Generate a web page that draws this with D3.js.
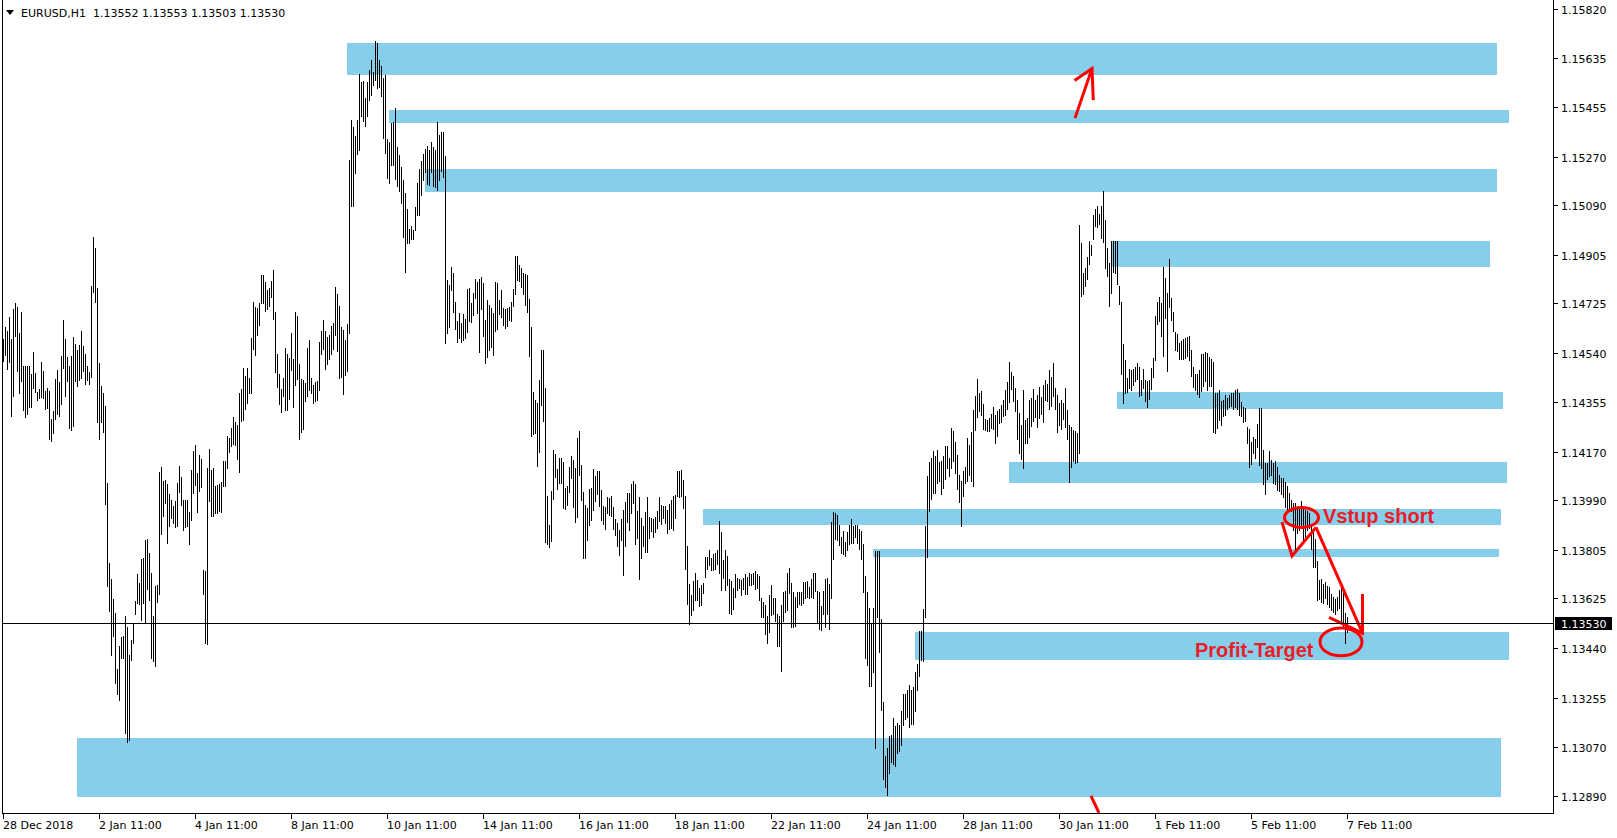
<!DOCTYPE html>
<html><head><meta charset="utf-8">
<script src="https://cdn.jsdelivr.net/npm/d3@7"></script>
<style>html,body{margin:0;padding:0;background:#fff;overflow:hidden}</style>
</head><body>
<svg id="c" width="1617" height="838"></svg>
<script>
// ---------------- DATA ----------------
const symbol = "EURUSD,H1";
const lastOHLC = ["1.13552", "1.13553", "1.13503", "1.13530"];
const currentPrice = 1.13530;

// hourly bars (28 Dec 2018 00:00 ... 7 Feb 2019 11:00)
const highs = [
1.14589,1.14635,1.14620,1.14672,1.14587,1.14700,1.14724,1.14709,1.14611,1.14691,
1.14487,1.14487,1.14487,1.14487,1.14458,1.14539,1.14461,1.14393,1.14404,1.14502,
1.14469,1.14395,1.14408,1.14396,1.14291,1.14319,1.14441,1.14472,1.14428,1.14524,
1.14658,1.14587,1.14522,1.14487,1.14524,1.14598,1.14571,1.14546,1.14565,1.14617,
1.14563,1.14532,1.14487,1.14467,1.14787,1.14967,1.14926,1.14780,1.14498,1.14415,
1.14389,1.14341,1.14054,1.13754,1.13695,1.13621,1.13570,1.13361,1.13444,1.13478,
1.13482,1.13559,1.13515,1.13413,1.13470,1.13526,1.13615,1.13715,1.13682,1.13769,
1.13774,1.13839,1.13843,1.13793,1.13719,1.13556,1.13671,1.13672,1.14093,1.14111,
1.14059,1.14065,1.14050,1.14013,1.13991,1.13967,1.13985,1.14054,1.14117,1.14076,
1.13989,1.13989,1.13991,1.13945,1.14100,1.14171,1.14195,1.14091,1.14156,1.14141,
1.13728,1.13726,1.14108,1.14178,1.14102,1.14108,1.14043,1.14046,1.14048,1.14058,
1.14133,1.14135,1.14228,1.14222,1.14259,1.14298,1.14280,1.14269,1.14389,1.14404,
1.14480,1.14452,1.14480,1.14443,1.14591,1.14726,1.14708,1.14704,1.14721,1.14826,
1.14826,1.14802,1.14771,1.14778,1.14806,1.14845,1.14691,1.14533,1.14459,1.14402,
1.14445,1.14554,1.14532,1.14519,1.14613,1.14515,1.14691,1.14676,1.14496,1.14439,
1.14437,1.14426,1.14554,1.14585,1.14445,1.14419,1.14428,1.14434,1.14578,1.14620,
1.14658,1.14617,1.14596,1.14602,1.14637,1.14650,1.14784,1.14758,1.14713,1.14635,
1.14622,1.14584,1.14643,1.15254,1.15404,1.15378,1.15343,1.15406,1.15574,1.15545,
1.15548,1.15487,1.15545,1.15589,1.15626,1.15584,1.15697,1.15689,1.15626,1.15606,
1.15561,1.15572,1.15332,1.15322,1.15393,1.15395,1.15450,1.15304,1.15272,1.15230,
1.15182,1.15134,1.15074,1.15000,1.15011,1.14996,1.15082,1.15169,1.15222,
1.15250,1.15276,1.15298,1.15309,1.15291,1.15321,1.15302,1.15293,1.15398,1.15347,
1.15361,1.15358,1.15269,1.14809,1.14791,1.14858,1.14835,1.14728,1.14654,1.14685,
1.14648,1.14682,1.14663,1.14774,1.14778,1.14721,1.14761,1.14813,1.14802,1.14811,
1.14821,1.14798,1.14658,1.14735,1.14715,1.14704,1.14684,1.14802,1.14796,1.14735,
1.14772,1.14706,1.14702,1.14706,1.14709,1.14728,1.14776,1.14896,1.14896,1.14865,
1.14852,1.14834,1.14830,1.14828,1.14739,1.14632,1.14393,1.14361,1.14350,1.14437,
1.14546,1.14546,1.14406,1.14006,1.13898,1.14022,1.14174,1.14161,1.14106,1.14145,
1.14145,1.14130,1.14033,1.14043,1.14111,1.14152,1.14137,1.14109,1.14220,1.14248,
1.14119,1.14020,1.13970,1.13961,1.14032,1.14035,1.14106,1.14080,1.14098,1.14096,
1.14026,1.13967,1.13965,1.14002,1.13995,1.14004,1.13965,1.13917,1.13902,1.13876,
1.13917,1.13954,1.13983,1.14015,1.14015,1.14050,1.14061,1.14048,1.13948,1.14002,
1.13924,1.13893,1.13943,1.14000,1.13926,1.13922,1.13917,1.13926,1.13950,1.14000,
1.13969,1.13967,1.13967,1.13954,1.13974,1.13991,1.14004,1.14007,1.14098,1.14098,
1.14102,1.14065,1.14006,1.13820,1.13678,1.13637,1.13687,1.13719,1.13693,1.13661,
1.13672,1.13682,1.13776,1.13776,1.13804,1.13774,1.13789,1.13791,1.13804,1.13911,
1.13869,1.13767,1.13802,1.13782,1.13696,1.13689,1.13663,1.13715,1.13700,1.13696,
1.13691,1.13698,1.13715,1.13704,1.13717,1.13713,1.13719,1.13726,1.13713,1.13707,
1.13624,1.13611,1.13600,1.13559,1.13635,1.13672,1.13626,1.13626,1.13565,1.13556,
1.13598,1.13648,1.13650,1.13717,1.13737,1.13682,1.13646,1.13630,1.13646,1.13648,
1.13648,1.13685,1.13685,1.13689,1.13667,1.13694,1.13719,1.13719,1.13652,1.13648,
1.13596,1.13652,1.13696,1.13700,1.13676,1.13907,1.13945,1.13941,1.13935,1.13898,
1.13850,1.13874,1.13833,1.13870,1.13895,1.13917,1.13893,1.13898,1.13898,1.13883,
1.13874,1.13824,1.13708,1.13648,1.13587,1.13528,1.13589,1.13800,1.13800,1.13800,
1.13546,1.13237,1.13037,1.13065,1.13111,1.13115,1.13176,1.13148,1.13158,1.13152,
1.13204,1.13269,1.13269,1.13282,1.13300,1.13282,1.13293,1.13348,1.13380,1.13500,
1.13500,1.13583,1.13893,1.14080,1.14130,1.14145,1.14172,1.14152,1.14176,1.14130,
1.14133,1.14154,1.14189,1.14189,1.14145,1.14259,1.14246,1.14204,1.14157,1.14083,
1.14059,1.14098,1.14111,1.14222,1.14195,1.14241,1.14324,1.14376,1.14439,1.14389,
1.14395,1.14346,1.14291,1.14287,1.14293,1.14311,1.14337,1.14306,1.14319,1.14330,
1.14343,1.14361,1.14398,1.14430,1.14504,1.14467,1.14450,1.14408,1.14361,1.14315,
1.14269,1.14398,1.14287,1.14296,1.14361,1.14370,1.14404,1.14361,1.14380,1.14411,
1.14374,1.14417,1.14435,1.14422,1.14472,1.14448,1.14500,1.14408,1.14380,1.14352,
1.14361,1.14352,1.14408,1.14324,1.14267,1.14263,1.14250,1.14245,1.14237,1.15015,
1.14945,1.14834,1.14854,1.14895,1.14954,1.14939,1.15050,1.15074,1.15084,1.15056,
1.15084,1.15141,1.15032,1.14926,1.14871,1.14954,1.14954,1.14954,1.14954,1.14787,
1.14726,1.14571,1.14509,1.14445,1.14476,1.14472,1.14476,1.14485,1.14500,1.14485,
1.14435,1.14476,1.14435,1.14432,1.14435,1.14482,1.14519,1.14676,1.14726,1.14745,
1.14722,1.14856,1.14815,1.14759,1.14885,1.14741,1.14689,1.14615,1.14608,1.14574,
1.14580,1.14590,1.14594,1.14598,1.14600,1.14548,1.14484,1.14459,1.14459,1.14475,
1.14532,1.14532,1.14542,1.14538,1.14523,1.14513,1.14504,1.14388,1.14388,1.14398,
1.14359,1.14363,1.14379,1.14369,1.14379,1.14388,1.14388,1.14398,1.14402,1.14388,
1.14355,1.14336,1.14331,1.14260,1.14254,1.14206,1.14225,1.14215,1.14273,1.14331,
1.14331,1.14177,1.14129,1.14129,1.14171,1.14139,1.14129,1.14133,1.14114,1.14081,
1.14071,1.14071,1.14056,1.14043,1.14014,1.13991,1.13979,1.13979,1.13960,1.13960,
1.13985,1.13956,1.13952,1.13947,1.13941,1.13899,1.13883,1.13845,1.13764,1.13692,
1.13697,1.13678,1.13684,1.13668,1.13665,1.13640,1.13630,1.13620,1.13630,1.13653,
1.13665,1.13659,1.13567,1.13553
];
const lows = [
1.14511,1.14533,1.14482,1.14506,1.14306,1.14380,1.14602,1.14472,1.14391,1.14435,
1.14328,1.14302,1.14315,1.14339,1.14339,1.14411,1.14396,1.14365,1.14374,1.14376,
1.14372,1.14332,1.14337,1.14219,1.14211,1.14241,1.14295,1.14315,1.14304,1.14352,
1.14485,1.14380,1.14435,1.14263,1.14254,1.14269,1.14435,1.14419,1.14439,1.14446,
1.14474,1.14424,1.14439,1.14424,1.14450,1.14767,1.14732,1.14283,1.14219,1.14285,
1.14246,1.13978,1.13672,1.13580,1.13417,1.13487,1.13311,1.13272,1.13248,1.13404,
1.13404,1.13124,1.13093,1.13098,1.13398,1.13461,1.13567,1.13611,1.13606,1.13546,
1.13608,1.13537,1.13663,1.13621,1.13404,1.13395,1.13374,1.13615,1.13643,1.13867,
1.13932,1.13982,1.13833,1.13895,1.13926,1.13908,1.13893,1.13895,1.14024,1.13976,
1.13882,1.13891,1.13896,1.13830,1.13917,1.14021,1.14050,1.13948,1.14028,1.14043,
1.13643,1.13459,1.13457,1.13991,1.13932,1.13935,1.13946,1.13945,1.13952,1.13948,
1.14046,1.14046,1.14111,1.14171,1.14195,1.14200,1.14198,1.14145,1.14096,1.14287,
1.14291,1.14333,1.14356,1.14391,1.14391,1.14556,1.14533,1.14609,1.14643,1.14726,
1.14726,1.14695,1.14704,1.14717,1.14750,1.14667,1.14469,1.14413,1.14350,1.14321,
1.14382,1.14330,1.14330,1.14371,1.14476,1.14339,1.14422,1.14443,1.14219,1.14245,
1.14257,1.14361,1.14380,1.14402,1.14391,1.14356,1.14361,1.14367,1.14402,1.14537,
1.14556,1.14480,1.14500,1.14517,1.14537,1.14556,1.14608,1.14546,1.14448,1.14450,
1.14387,1.14458,1.14472,1.14615,1.15087,1.15089,1.15211,1.15282,1.15295,1.15421,
1.15404,1.15385,1.15422,1.15482,1.15500,1.15537,1.15556,1.15528,1.15530,1.15497,
1.15341,1.15285,1.15191,1.15174,1.15241,1.15239,1.15187,1.15161,1.15143,1.15098,
1.14971,1.14843,1.14950,1.14950,1.14965,1.14963,1.15000,1.15056,1.15056,
1.15129,1.15185,1.15216,1.15170,1.15167,1.15213,1.15163,1.15157,1.15148,1.15185,
1.15217,1.15195,1.14578,1.14615,1.14639,1.14776,1.14693,1.14628,1.14580,1.14598,
1.14583,1.14589,1.14596,1.14620,1.14658,1.14656,1.14682,1.14745,1.14689,1.14543,
1.14704,1.14602,1.14502,1.14524,1.14550,1.14561,1.14532,1.14622,1.14628,1.14684,
1.14674,1.14646,1.14634,1.14641,1.14665,1.14661,1.14715,1.14759,1.14811,1.14809,
1.14785,1.14759,1.14719,1.14693,1.14528,1.14232,1.14237,1.14243,1.14120,1.14171,
1.14348,1.14287,1.13837,1.13830,1.13819,1.13841,1.13998,1.14080,1.14035,1.14056,
1.14056,1.13963,1.13959,1.13976,1.14022,1.14074,1.13967,1.13913,1.13930,1.14085,
1.13993,1.13778,1.13778,1.13843,1.13900,1.13919,1.13957,1.13991,1.14015,1.13969,
1.13917,1.13902,1.13885,1.13945,1.13937,1.13935,1.13887,1.13861,1.13822,1.13787,
1.13846,1.13713,1.13822,1.13911,1.13883,1.13946,1.13982,1.13828,1.13852,1.13698,
1.13776,1.13822,1.13800,1.13800,1.13852,1.13876,1.13856,1.13874,1.13889,1.13915,
1.13902,1.13926,1.13908,1.13870,1.13885,1.13889,1.13883,1.13926,1.14009,1.14006,
1.14009,1.13963,1.13735,1.13606,1.13533,1.13565,1.13583,1.13620,1.13620,1.13598,
1.13604,1.13648,1.13708,1.13737,1.13750,1.13732,1.13732,1.13737,1.13756,1.13720,
1.13657,1.13704,1.13657,1.13678,1.13574,1.13568,1.13587,1.13633,1.13657,1.13667,
1.13639,1.13663,1.13643,1.13643,1.13676,1.13676,1.13680,1.13663,1.13667,1.13620,
1.13556,1.13556,1.13496,1.13459,1.13500,1.13565,1.13568,1.13541,1.13448,1.13450,
1.13357,1.13543,1.13578,1.13583,1.13648,1.13522,1.13519,1.13524,1.13593,1.13606,
1.13602,1.13611,1.13630,1.13633,1.13630,1.13633,1.13630,1.13654,1.13537,1.13513,
1.13509,1.13570,1.13519,1.13570,1.13513,1.13630,1.13774,1.13848,1.13843,1.13824,
1.13796,1.13791,1.13783,1.13806,1.13828,1.13833,1.13833,1.13856,1.13833,1.13809,
1.13774,1.13652,1.13404,1.13380,1.13300,1.13300,1.13352,1.13069,1.13556,1.13426,
1.13213,1.12954,1.12926,1.12895,1.12978,1.13019,1.13009,1.13004,1.13052,1.13059,
1.13080,1.13154,1.13176,1.13185,1.13148,1.13161,1.13158,1.13207,1.13287,1.13337,
1.13398,1.13393,1.13556,1.13782,1.13954,1.13996,1.14019,1.14019,1.14056,1.14065,
1.14015,1.14037,1.14070,1.14111,1.14083,1.14111,1.14139,1.14093,1.14033,1.13985,
1.13898,1.14009,1.14056,1.14065,1.14087,1.14065,1.14046,1.14254,1.14302,1.14324,
1.14311,1.14256,1.14254,1.14250,1.14250,1.14263,1.14259,1.14204,1.14232,1.14278,
1.14283,1.14306,1.14311,1.14333,1.14357,1.14408,1.14361,1.14324,1.14219,1.14167,
1.14145,1.14111,1.14204,1.14204,1.14226,1.14269,1.14287,1.14302,1.14265,1.14300,
1.14315,1.14283,1.14365,1.14361,1.14333,1.14343,1.14380,1.14333,1.14245,1.14274,
1.14259,1.14296,1.14265,1.14219,1.14059,1.14117,1.14139,1.14130,1.14133,1.14167,
1.14754,1.14759,1.14791,1.14815,1.14871,1.14904,1.14963,1.15013,1.15009,1.15019,
1.14969,1.14954,1.14856,1.14828,1.14717,1.14763,1.14843,1.14837,1.14796,1.14722,
1.14463,1.14356,1.14393,1.14395,1.14411,1.14404,1.14422,1.14435,1.14445,1.14380,
1.14385,1.14411,1.14361,1.14339,1.14370,1.14408,1.14450,1.14515,1.14648,1.14658,
1.14602,1.14528,1.14671,1.14472,1.14713,1.14663,1.14621,1.14550,1.14546,1.14519,
1.14519,1.14519,1.14523,1.14528,1.14513,1.14456,1.14413,1.14402,1.14388,1.14375,
1.14398,1.14417,1.14436,1.14404,1.14417,1.14417,1.14248,1.14244,1.14263,1.14292,
1.14273,1.14306,1.14311,1.14331,1.14340,1.14344,1.14331,1.14340,1.14331,1.14311,
1.14306,1.14283,1.14288,1.14206,1.14116,1.14129,1.14167,1.14148,1.14190,1.14125,
1.14114,1.14052,1.14014,1.14071,1.14081,1.14087,1.14056,1.14052,1.14029,1.14027,
1.14014,1.14004,1.13966,1.13956,1.13952,1.13952,1.13880,1.13803,1.13870,1.13883,
1.13889,1.13841,1.13845,1.13883,1.13889,1.13812,1.13745,1.13745,1.13620,1.13626,
1.13615,1.13611,1.13630,1.13607,1.13596,1.13582,1.13576,1.13569,1.13582,1.13592,
1.13544,1.13525,1.13461,1.13503
];

const timeLabels = ["28 Dec 2018","2 Jan 11:00","4 Jan 11:00","8 Jan 11:00","10 Jan 11:00",
  "14 Jan 11:00","16 Jan 11:00","18 Jan 11:00","22 Jan 11:00","24 Jan 11:00",
  "28 Jan 11:00","30 Jan 11:00","1 Feb 11:00","5 Feb 11:00","7 Feb 11:00"];
const barsPerTimeLabel = 48;
const priceTicks = [1.15820,1.15635,1.15455,1.15270,1.15090,1.14905,1.14725,1.14540,
  1.14355,1.14170,1.13990,1.13805,1.13625,1.13440,1.13255,1.13070,1.12890];

// supply / demand zones (bar index start/end, price top/bottom)
const zoneStart  = [172, 193, 211, 554, 557, 503, 350, 435, 456, 37];
const zoneEnd    = [747, 753, 747, 743.5, 750, 752, 749, 748, 753, 749];
const zoneTop    = [1.15693,1.15443,1.15224,1.14956,1.14393,1.14133,1.13958,1.13809,1.13500,1.13105];
const zoneBottom = [1.15574,1.15395,1.15138,1.14859,1.14330,1.14055,1.13898,1.13779,1.13396,1.12886];

// hand-drawn annotations: [bar index, price]
const upArrowShaft = [[535.75,1.15413],[544.25,1.15598]];
const upArrowHead  = [[535.5,1.15553],[544.25,1.15598],[544.9,1.15480]];
const bottomMark   = [[543.75,1.12890],[547.75,1.12826]];
const entryMark    = [[639.25,1.13909],[644.25,1.13783],[656.25,1.13889]];
const targetShaft  = [[656.25,1.13889],[679.5,1.13496]];
const targetHead   = [[679.5,1.13641],[679.5,1.13496],[662.75,1.13554]];
const ellipseCenter = [[649,1.13926],[668.75,1.13463]];
const ellipseRadiusBars  = [8.5, 10.5];
const ellipseRadiusPrice = [0.00037, 0.00052];
const noteTexts = ["Vstup short", "Profit-Target"];
const notePos   = [[659.75,1.13904],[595.75,1.13407]];

// ---------------- DRAW ----------------
const W = 1617, H = 838;
const svg = d3.select("#c");
svg.append("rect").attr("width", W).attr("height", H).attr("fill", "#fff");

const x = d3.scaleLinear().domain([0, 775]).range([3.5, 1553.5]);
const y = d3.scaleLinear().domain([1.12890, 1.15820]).range([795.8, 8.8]);
const plotRight = 1553.5, plotBottom = 813.5, plotLeft = 2.5;

svg.append("clipPath").attr("id", "pc").append("rect")
  .attr("x", 3).attr("y", 0).attr("width", plotRight - 3.5).attr("height", plotBottom - 0.5);
const g = svg.append("g").attr("clip-path", "url(#pc)");

// zones
g.selectAll("rect.zone").data(d3.range(zoneStart.length)).join("rect")
  .attr("class", "zone")
  .attr("x", i => Math.round(x(zoneStart[i]) - 0.5))
  .attr("width", i => Math.round(x(zoneEnd[i]) - x(zoneStart[i])))
  .attr("y", i => Math.round(y(zoneTop[i])))
  .attr("height", i => Math.round(y(zoneBottom[i])) - Math.round(y(zoneTop[i])))
  .attr("fill", "#87CEEB")
  .attr("shape-rendering", "crispEdges");

// bars
const n = Math.min(highs.length, lows.length);
g.selectAll("line.bar").data(d3.range(n)).join("line")
  .attr("class", "bar")
  .attr("x1", i => x(i)).attr("x2", i => x(i))
  .attr("y1", i => Math.floor(y(highs[i])))
  .attr("y2", i => Math.ceil(y(lows[i])) + 1)
  .attr("stroke", "#000").attr("stroke-width", 1)
  .attr("shape-rendering", "crispEdges");

// current price line
const yc = Math.floor(y(currentPrice)) + 0.5;
svg.append("line").attr("x1", plotLeft).attr("x2", plotRight).attr("y1", yc).attr("y2", yc)
  .attr("stroke", "#000").attr("stroke-width", 1).attr("shape-rendering", "crispEdges");

// annotations
const red = "#ff0000";
const ln = d3.line().x(d => x(d[0])).y(d => y(d[1]));
[upArrowShaft, upArrowHead, bottomMark, entryMark, targetShaft, targetHead].forEach(pts => {
  g.append("path").attr("d", ln(pts)).attr("fill", "none")
    .attr("stroke", red).attr("stroke-width", 3).attr("stroke-linejoin", "miter");
});
ellipseCenter.forEach((c, k) => {
  g.append("ellipse")
    .attr("cx", x(c[0])).attr("cy", y(c[1]))
    .attr("rx", x(c[0] + ellipseRadiusBars[k]) - x(c[0]))
    .attr("ry", y(c[1] - ellipseRadiusPrice[k]) - y(c[1]))
    .attr("fill", "none").attr("stroke", red).attr("stroke-width", 3);
});
noteTexts.forEach((t, k) => {
  g.append("text").attr("x", x(notePos[k][0])).attr("y", y(notePos[k][1]))
    .attr("font-family", "'Liberation Sans', Arial, sans-serif")
    .attr("font-weight", "bold").attr("font-size", "20px")
    .attr("fill", "#ea1c28").text(t);
});

// frame
const frame = svg.append("g").attr("stroke", "#000").attr("stroke-width", 1).attr("shape-rendering", "crispEdges");
frame.append("line").attr("x1", plotLeft).attr("x2", plotLeft).attr("y1", 0).attr("y2", plotBottom);
frame.append("line").attr("x1", plotRight).attr("x2", plotRight).attr("y1", 0).attr("y2", plotBottom);
frame.append("line").attr("x1", plotLeft).attr("x2", plotRight).attr("y1", plotBottom).attr("y2", plotBottom);

const font = "'DejaVu Sans', Verdana, sans-serif";

// price axis
const pa = svg.append("g");
priceTicks.forEach(p => {
  const yy = Math.round(y(p)) + 0.5;
  pa.append("line").attr("x1", plotRight).attr("x2", plotRight + 4).attr("y1", yy).attr("y2", yy)
    .attr("stroke", "#000").attr("shape-rendering", "crispEdges");
  pa.append("text").attr("x", 1561).attr("y", yy + 4)
    .attr("font-family", font).attr("font-size", "11px").attr("fill", "#000")
    .text(p.toFixed(5));
});
// current price label
pa.append("rect").attr("x", plotRight + 1.5).attr("y", yc - 6.5).attr("width", 57).attr("height", 13)
  .attr("fill", "#000");
pa.append("text").attr("x", 1561).attr("y", yc + 4)
  .attr("font-family", font).attr("font-size", "11px").attr("fill", "#fff")
  .text(currentPrice.toFixed(5));

// time axis
const ta = svg.append("g");
timeLabels.forEach((t, k) => {
  const xx = x(k * barsPerTimeLabel);
  ta.append("line").attr("x1", xx).attr("x2", xx).attr("y1", plotBottom).attr("y2", plotBottom + 5)
    .attr("stroke", "#000").attr("shape-rendering", "crispEdges");
  ta.append("text").attr("x", xx - 0.5).attr("y", 829)
    .attr("font-family", font).attr("font-size", "11px").attr("fill", "#000")
    .text(t);
});

// title
svg.append("path").attr("d", "M6,10 L14,10 L10,15 Z").attr("fill", "#000");
svg.append("text").attr("x", 21).attr("y", 17)
  .attr("font-family", font).attr("font-size", "11px").attr("fill", "#000")
  .style("white-space", "pre")
  .text(symbol + "  " + lastOHLC.join(" "));
</script>
</body></html>
